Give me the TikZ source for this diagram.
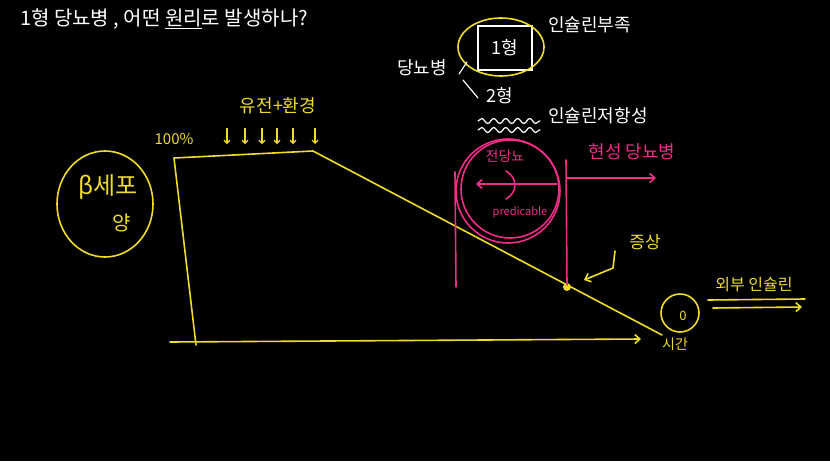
\documentclass[tikz,border=0pt]{standalone}
\usepackage{fontspec}
\setmainfont{Noto Sans CJK KR}
\usetikzlibrary{arrows.meta,decorations.pathmorphing,shapes.geometric}
\definecolor{yel}{RGB}{240,220,40}
\definecolor{pnk}{RGB}{240,45,135}
\begin{document}
\begin{tikzpicture}[x=1pt,y=-1pt,
  yl/.style={draw=yel, line width=1.6pt, line cap=round, line join=round},
  pk/.style={draw=pnk, line width=1.6pt, line cap=round, line join=round},
  wl/.style={draw=white, line width=1.2pt, line cap=round, line join=round},
  wtxt/.style={text=white, inner sep=0pt},
  ytxt/.style={text=yel, inner sep=0pt},
  ptxt/.style={text=pnk, inner sep=0pt},
  barb/.style={-{Straight Barb[length=5pt,width=9pt]}},
  fs/.style={font=\fontsize{#1}{#1}\selectfont}]
\fill[black] (0,0) rectangle (830,461);
\useasboundingbox (0,0) rectangle (830,461);

% title
\node[wtxt, fs=20, anchor=west] (title) at (20,19) {1형 당뇨병 , 어떤 \underline{원리}로 발생하나?};

% type 1 / type 2
\node[wtxt, fs=18, draw=white, line width=1.2pt, minimum width=54pt, minimum height=44pt] (t1) at (505,48) {1형};
\node[draw=yel, line width=1.6pt, ellipse, minimum width=86pt, minimum height=58pt] (t1e) at (501,47) {};
\node[wtxt, fs=18] (dm) at (422,68) {당뇨병};
\node[wtxt, fs=18] (t2) at (500,96) {2형};
\node[wtxt, fs=18, anchor=west] (ins1) at (548,25) {인슐린부족};
\node[wtxt, fs=18, anchor=west] (ins2) at (548,116) {인슐린저항성};
\coordinate (d1a) at (459,74);
\coordinate (d1b) at (467,62);
\coordinate (d2a) at (463,80);
\coordinate (d2b) at (478,98);
\draw[wl] (d1a) -- (d1b);
\draw[wl] (d2a) -- (d2b);
\draw[wl, decorate, decoration={snake, segment length=12pt, amplitude=2.5pt}] (478,121) -- (540,121);
\draw[wl, decorate, decoration={snake, segment length=12pt, amplitude=2.5pt}] (478,130) -- (540,130);

% beta cell circle
\node[draw=yel, line width=1.6pt, ellipse, minimum width=96pt, minimum height=106pt] (bc) at (105,204) {};
\node[ytxt, fs=24] (bct) at (108,187) {β세포};
\node[ytxt, fs=20] (bcy) at (122,223) {양};

% plot
\coordinate (p0) at (196,345);
\coordinate (p1) at (174,158);
\coordinate (p2) at (313,151);
\coordinate (p3) at (662,335);
\coordinate (ax0) at (170,342);
\coordinate (ax1) at (641,339);
\draw[yl] (p0) -- (p1) -- (p2) -- (p3);
\draw[yl, barb] (ax0) -- (ax1);
\node[ytxt, fs=15] (pc) at (174,139) {100\%};
\node[ytxt, fs=18] (gene) at (278,106) {유전+환경};
\foreach \xx in {227,245,262,277,293,315} \draw[yel, line width=1.2pt, -{Straight Barb[length=3pt,width=6pt]}] (\xx,128) -- (\xx,144);

% symptoms
\fill[yel] (567,287) circle (4pt);
\node[ytxt, fs=17] (sym) at (645,242) {증상};
\coordinate (s0) at (615,251);
\coordinate (s1) at (613,268);
\coordinate (s2) at (584,280);
\draw[yl, barb] (s0) -- (s1) -- (s2);

% pink part
\draw[pk] (510,189) circle (49pt);
\draw[pk] (508,191) circle (52pt);
\draw[pk] (455,172) -- (456,287);
\draw[pk] (566,160) -- (567,285);
\node[ptxt, fs=14] (pre) at (505,156) {전당뇨};
\node[ptxt, fs=11] (pred) at (520,212) {predicable};
\coordinate (la) at (557,184);
\coordinate (lb) at (476,184);
\draw[pk, barb] (la) -- (lb);
\draw[pk] (506,171) .. controls (518,178) and (518,192) .. (506,199);
\node[ptxt, fs=18] (overt) at (632,152) {현성 당뇨병};
\coordinate (ra) at (567,178);
\coordinate (rb) at (656,178);
\draw[pk, barb] (ra) -- (rb);

% external insulin / time
\node[ytxt, fs=16] (ext) at (754,285) {외부 인슐린};
\draw[yl] (708,300) -- (805,299);
\draw[yl, barb] (713,308) -- (802,307);
\draw[yl] (680,313) circle (19pt);
\node[ytxt, fs=13] (zero) at (683,316) {0};
\node[ytxt, fs=14] (time) at (675,344) {시간};
\end{tikzpicture}
\end{document}
